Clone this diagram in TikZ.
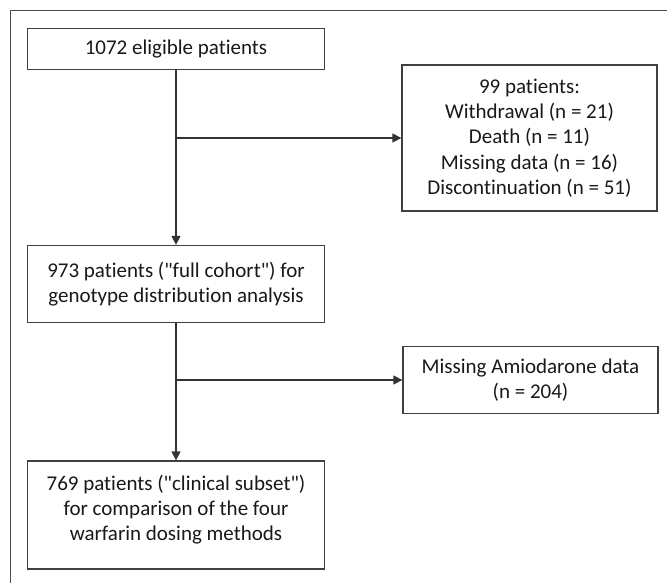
\documentclass[tikz,border=0pt]{standalone}
\usepackage{fontspec}
\setmainfont{Carlito}[Ligatures={TeXOff,NoCommon}]
\usetikzlibrary{arrows.meta}

\begin{document}
\begin{tikzpicture}[x=1pt,y=-1pt,
    box/.style={draw=black!75, line width=1.3pt, fill=white, align=center,
        inner sep=0pt, text=black!90, font=\fontsize{21}{25.3}\selectfont},
    flow/.style={draw=black!80, line width=1.4pt,
        -{Triangle[length=9pt,width=9pt]}}]
    \useasboundingbox (0,0) rectangle (667,583);
    \draw[black!70, line width=1.2pt] (10.5,583) -- (10.5,10.5) -- (667,10.5);

    \node[box, minimum width=297, minimum height=40.5] (all) at (176, 49) {1072 eligible patients};
    \node[box, minimum width=255, minimum height=146] (excl) at (529.5, 138)
        {99 patients:\\Withdrawal (n = 21)\\Death (n = 11)\\Missing data (n = 16)\\Discontinuation (n = 51)};
    \node[box, minimum width=297, minimum height=77] (full) at (176, 284)
        {973 patients ("full cohort") for\\genotype distribution analysis};
    \node[box, minimum width=255, minimum height=67.5] (amio) at (530.5, 380)
        {Missing Amiodarone data\\(n = 204)};
    \node[box, minimum width=297, minimum height=108] (clin) at (176, 515)
        {769 patients ("clinical subset")\\for comparison of the four\\warfarin dosing methods\\[-11pt]};

    \coordinate (j1) at (all.south |- excl.west);
    \coordinate (j2) at (full.south |- amio.west);
    \draw[flow] (all) -- (full);
    \draw[flow] (j1) -- (excl);
    \draw[flow] (full) -- (clin);
    \draw[flow] (j2) -- (amio);
\end{tikzpicture}
\end{document}
